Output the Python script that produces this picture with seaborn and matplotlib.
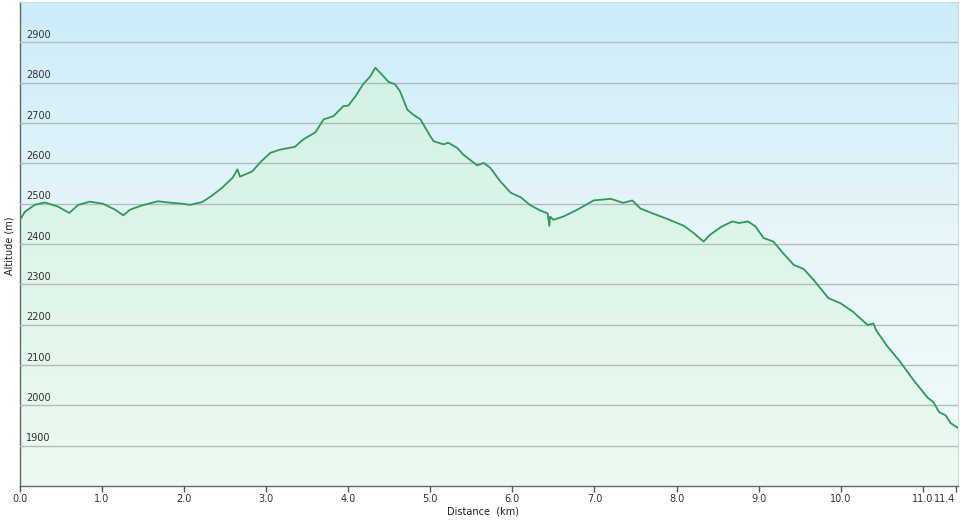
import numpy as np
import pandas as pd
import matplotlib
matplotlib.use("Agg")
import matplotlib.pyplot as plt
import seaborn as sns
from matplotlib.colors import LinearSegmentedColormap


# ============================================================================
# Profile data
# ============================================================================

distance_km = [
    0.00, 0.06, 0.18, 0.30, 0.46, 0.60, 0.71, 0.85, 1.01, 1.16,
    1.26, 1.34, 1.49, 1.68, 1.85, 1.98, 2.07, 2.22, 2.34, 2.46,
    2.59, 2.65, 2.68, 2.83, 2.93, 3.05, 3.17, 3.35, 3.45, 3.60,
    3.70, 3.82, 3.94, 4.00, 4.09, 4.18, 4.27, 4.33, 4.41, 4.49,
    4.57, 4.63, 4.72, 4.79, 4.88, 5.00, 5.04, 5.16, 5.22, 5.33,
    5.40, 5.57, 5.65, 5.73, 5.85, 5.98, 6.10, 6.22, 6.34, 6.43,
    6.45, 6.46, 6.50, 6.62, 6.79, 6.99, 7.20, 7.35, 7.46, 7.56,
    7.72, 7.89, 8.09, 8.21, 8.33, 8.41, 8.54, 8.68, 8.76, 8.87,
    8.96, 9.06, 9.18, 9.30, 9.43, 9.55, 9.67, 9.85, 10.00, 10.15,
    10.33, 10.40, 10.43, 10.57, 10.71, 10.89, 11.06, 11.13, 11.20, 11.28,
    11.34, 11.43,
]

altitude_m = [
    2460, 2480, 2497, 2503, 2493, 2477, 2497, 2505, 2500, 2485,
    2471, 2485, 2496, 2506, 2502, 2500, 2497, 2504, 2520, 2539,
    2564, 2585, 2567, 2580, 2603, 2626, 2634, 2641, 2659, 2677,
    2709, 2717, 2742, 2743, 2767, 2796, 2816, 2837, 2820, 2802,
    2796, 2779, 2733, 2721, 2709, 2667, 2655, 2647, 2651, 2638,
    2622, 2595, 2601, 2589, 2556, 2527, 2516, 2496, 2483, 2476,
    2445, 2468, 2460, 2468, 2485, 2508, 2512, 2502, 2508, 2488,
    2475, 2462, 2445, 2427, 2406, 2423, 2442, 2456, 2452, 2456,
    2444, 2415, 2406, 2377, 2348, 2338, 2311, 2266, 2253, 2232,
    2199, 2203, 2187, 2146, 2112, 2062, 2019, 2008, 1983, 1975,
    1956, 1944,
]

y_ticks = [1900, 2000, 2100, 2200, 2300, 2400, 2500, 2600, 2700, 2800, 2900]
x_ticks = [0, 1, 2, 3, 4, 5, 6, 7, 8, 9, 10, 11, 11.4]
x_tick_labels = ["0.0", "1.0", "2.0", "3.0", "4.0", "5.0", "6.0",
                 "7.0", "8.0", "9.0", "10.0", "11.0", "11.4"]

profile = pd.DataFrame({"Distance": distance_km, "Altitude": altitude_m})


# ============================================================================
# Configure Visualization
# ============================================================================

sns.set_theme(style="white")
plt.rcParams["font.family"] = ["DejaVu Sans"]

x_max = 11.43
y_min, y_max = 1800, 3000

fig = plt.figure(figsize=(9.6, 5.2), dpi=100)
ax = fig.add_axes([20 / 960, 34 / 520, 938 / 960, 484 / 520])

grad = np.linspace(0, 1, 256).reshape(-1, 1)

# sky gradient behind the chart
sky = LinearSegmentedColormap.from_list(
    "sky", ["#f1fbf8", "#e8f6fa", "#cbecf9"]
)
ax.imshow(grad, cmap=sky, origin="lower",
          extent=[0, x_max, y_min, y_max], aspect="auto", zorder=0)

# green gradient under the profile
poly = ax.fill_between(profile["Distance"], profile["Altitude"], y_min,
                       color="none", zorder=1)
area = LinearSegmentedColormap.from_list("area", ["#edfaf1", "#d2f1e4"])
img = ax.imshow(grad, cmap=area, origin="lower",
                extent=[0, x_max, y_min, 2850], aspect="auto", zorder=1)
img.set_clip_path(poly.get_paths()[0], transform=ax.transData)

sns.lineplot(
    data=profile,
    x="Distance",
    y="Altitude",
    color="#2f9a58",
    linewidth=1.3,
    estimator=None,
    ax=ax,
    zorder=3
)

ax.set_xlim(0, x_max)
ax.set_ylim(y_min, y_max)


# ============================================================================
# Axes, grid and labels
# ============================================================================

ax.set_axisbelow(False)
ax.set_yticks(y_ticks)
ax.set_yticklabels([])
ax.grid(axis="y", color="#b3bcbd", linewidth=1)
ax.grid(axis="x", visible=False)
ax.tick_params(axis="y", length=0)

for val in y_ticks:
    ax.text(0.0064, val + 6, str(val), transform=ax.get_yaxis_transform(),
            fontsize=7, color="#333333", ha="left", va="bottom", zorder=4)

ax.set_xticks(x_ticks, labels=x_tick_labels)
ax.tick_params(axis="x", direction="out", length=4, width=1,
               color="#555555", labelsize=7, labelcolor="#333333", pad=2,
               bottom=True)
# last label sits against the right edge
ax.get_xticklabels()[-1].set_ha("right")

for side in ["left", "bottom"]:
    ax.spines[side].set_color("#666666")
    ax.spines[side].set_linewidth(1)
for side in ["top", "right"]:
    ax.spines[side].set_color("#cfdde3")
    ax.spines[side].set_linewidth(0.8)

ax.set_xlabel("Distance  (km)", fontsize=7, color="#222222")
ax.set_ylabel("Altitude (m)", fontsize=7, color="#222222")
ax.xaxis.set_label_coords(0.494, -0.043)
ax.yaxis.set_label_coords(-5 / 938, 0.496)

fig.savefig("out.png", dpi=100)
